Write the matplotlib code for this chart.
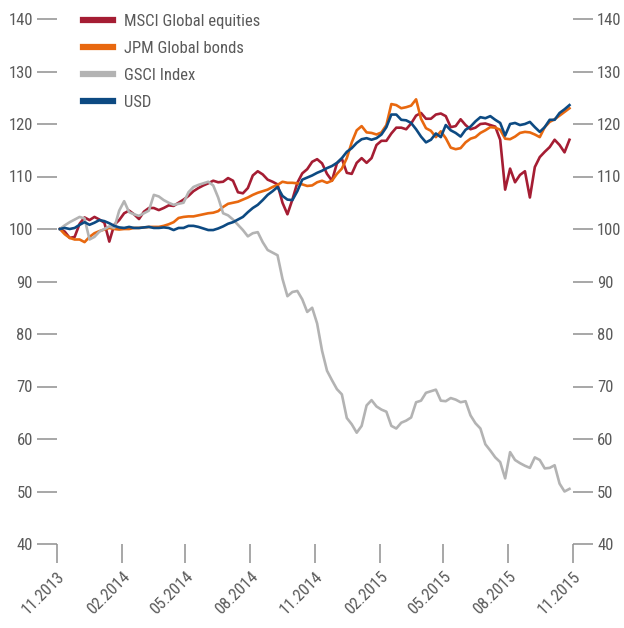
import matplotlib
matplotlib.use('Agg')
import matplotlib.pyplot as plt
from matplotlib import font_manager
from matplotlib.lines import Line2D
import pandas as pd

# ---------------- data ----------------
dates = pd.date_range('2013-11-05', periods=104, freq='7D')

msci = [100, 99.5, 98.3, 98.5, 101, 102.2, 101.7, 102.3, 101.8, 101.2,
        97.6, 100.8, 101.7, 103, 103.5, 102.8, 101.9, 103.3, 104, 104,
        103.6, 104, 104.5, 104.4, 105, 105.6, 106.3, 107.2, 107.8, 108.3,
        108.7, 109.2, 108.9, 109, 109.7, 109.2, 107, 106.8, 107.8, 110.2,
        111, 110.4, 109.4, 109, 108.5, 105, 102.8, 105.6, 108.8, 110.6,
        111.4, 112.8, 113.3, 112.5, 110.5, 109.2, 112.5, 113.4, 110.7, 110.5,
        112.6, 113.5, 112.6, 113.5, 116, 116.8, 116.8, 118.2, 119.3, 119.3,
        119, 120.1, 121.6, 122.1, 121, 121, 121.8, 122, 121.5, 119.4,
        119.6, 120.9, 119.8, 119, 119.3, 120, 120.1, 119.8, 119.5, 117,
        107.5, 111.5, 108.9, 110.3, 111, 106, 111.8, 113.7, 114.7, 115.6,
        117, 116, 114.6, 117]

jpm = [100, 99, 98.3, 98, 98, 97.5, 98.5, 99.2, 99.6, 99.9,
       100.2, 100, 99.9, 100, 100, 100.2, 100.2, 100.3, 100.4, 100.4,
       100.4, 100.6, 100.9, 101.3, 102.1, 102.3, 102.4, 102.4, 102.6, 102.8,
       103, 103.1, 103.4, 104.2, 104.8, 105, 105.2, 105.6, 106, 106.5,
       106.9, 107.2, 107.5, 108, 108.4, 109, 108.8, 108.8, 108.7, 108.5,
       108.2, 108.3, 108.9, 109.2, 108.8, 109.2, 110.5, 111.5, 113.5, 116.5,
       118.8, 119.6, 118.4, 118.3, 118, 118.4, 119.8, 123.8, 123.6, 123,
       123.2, 123.5, 124.7, 121, 119.2, 118.7, 117.5, 118.6, 117.3, 115.5,
       115.2, 115.4, 116.5, 117.2, 117.5, 118.3, 118.8, 119.4, 119.3, 118.9,
       117.2, 117.1, 117.6, 118.3, 118.5, 118.4, 118, 117.5, 119.4, 120.4,
       120.9, 121.6, 122.3, 123]

gsci = [100, 100.7, 101.3, 101.8, 102.3, 102, 98, 98.5, 99.5, 100,
        100.5, 100.2, 103.5, 105.3, 103.2, 102.8, 102.5, 103, 103.5, 106.5,
        106.2, 105.5, 105, 104.6, 104.8, 105, 107, 108, 108.4, 108.7,
        109, 108.3, 106, 103, 102.6, 101.8, 100.8, 99.8, 98.6, 99.2,
        99.4, 97.5, 96, 95.5, 95, 90.5, 87.2, 88, 88.2, 86.6,
        84.2, 85, 82, 76.8, 73, 71.2, 69.5, 68.5, 64, 62.8,
        61.2, 62.5, 66.4, 67.4, 66.2, 65.6, 65.2, 62.5, 62, 63.1,
        63.5, 64.1, 67, 67.3, 68.8, 69.1, 69.4, 67.3, 67.2, 67.8,
        67.5, 67, 67.2, 64.5, 63, 62, 59, 57.8, 56.5, 55.6,
        52.5, 57.5, 56, 55.4, 54.9, 54.5, 56.5, 56, 54.4, 54.5,
        55, 51.5, 50, 50.5]

usd = [100, 100.2, 100, 100.2, 100.8, 101.3, 100.8, 101.2, 101.7, 101.5,
       101.1, 100.6, 100.3, 100.2, 100.4, 100.2, 100.2, 100.3, 100.4, 100.2,
       100.2, 100.3, 100.2, 99.8, 100.2, 100.2, 100.6, 100.6, 100.4, 100.1,
       99.8, 99.8, 100.1, 100.5, 101, 101.3, 101.8, 102.3, 103.2, 104,
       104.6, 105.5, 106.5, 107.2, 108, 106.3, 105.6, 105.5, 107.2, 109.4,
       109.8, 110.2, 110.7, 111.1, 111.6, 112, 112.6, 113.5, 114.7, 115.4,
       116.4, 117.1, 117.3, 117, 117.3, 118, 119.4, 121.8, 121.8, 120.8,
       120.7, 120.2, 119, 117.6, 116.5, 117, 118.2, 117.5, 119.8, 118.8,
       118.3, 117.6, 118.9, 119.5, 120.5, 121.3, 121.1, 121.5, 120.8, 120.2,
       117.8, 120, 120.2, 119.8, 120, 120.4, 119.4, 118.5, 119.4, 120.8,
       120.8, 122.1, 122.8, 123.6]

series_names = ['MSCI Global equities', 'JPM Global bonds', 'GSCI Index', 'USD']
series_colors = ['#A51D33', '#E8680F', '#B3B3B3', '#0D4A82']

tick_dates = pd.to_datetime(['2013-11-01', '2014-02-01', '2014-05-01', '2014-08-01',
                             '2014-11-01', '2015-02-01', '2015-05-01', '2015-08-01',
                             '2015-11-01'])
tick_labels = ['11.2013', '02.2014', '05.2014', '08.2014', '11.2014',
               '02.2015', '05.2015', '08.2015', '11.2015']
y_ticks = [40, 50, 60, 70, 80, 90, 100, 110, 120, 130, 140]

# ---------------- font ----------------
avail = {f.name for f in font_manager.fontManager.ttflist}
family = 'DejaVu Sans'
for cand in ['Roboto Condensed', 'Liberation Sans Narrow', 'Open Sans Condensed',
             'Noto Sans Condensed', 'DejaVu Sans']:
    if cand in avail:
        family = cand
        break
plt.rcParams['font.family'] = [family, 'DejaVu Sans']
plt.rcParams['font.stretch'] = 'condensed'

label_color = '#5a5a5a'
tick_color = '#8f8f8f'
fs = 12.0

# ---------------- figure ----------------
fig = plt.figure(figsize=(6.24, 6.28), dpi=100)
ax = fig.add_axes([57 / 624, 1 - 544 / 628, (573 - 57) / 624, (544 - 19) / 628])

for vals, name, col in zip([msci, jpm, gsci, usd], series_names, series_colors):
    ax.plot(dates, vals, color=col, lw=1.9, label=name)

ax.set_xlim(tick_dates[0], tick_dates[-1])
ax.set_ylim(40, 140)
ax.set_yticks(y_ticks)
ax.set_xticks(tick_dates)
ax.set_xticklabels(tick_labels, rotation=45, ha='right', va='top',
                   rotation_mode='anchor')

for s in ax.spines.values():
    s.set_visible(False)

ax.tick_params(axis='y', which='major', left=True, right=True,
               labelleft=True, labelright=True, direction='out',
               length=14.4, width=1.1, color=tick_color, pad=3,
               labelsize=fs, labelcolor=label_color)
ax.tick_params(axis='x', which='major', bottom=True, direction='out',
               length=13.7, width=1.1, color=tick_color, pad=4,
               labelsize=fs, labelcolor=label_color)

# legend with thicker handles
handles = [Line2D([0], [0], color=c, lw=4.5) for c in series_colors]
leg = fig.legend(handles, series_names, loc='upper left',
                 bbox_to_anchor=(83 / 624, 1 - 14 / 628), frameon=False,
                 fontsize=fs, handlelength=1.8, handletextpad=0.65,
                 labelspacing=0.72, borderpad=0, borderaxespad=0)
for t in leg.get_texts():
    t.set_color(label_color)

fig.savefig('out.png', dpi=100)
